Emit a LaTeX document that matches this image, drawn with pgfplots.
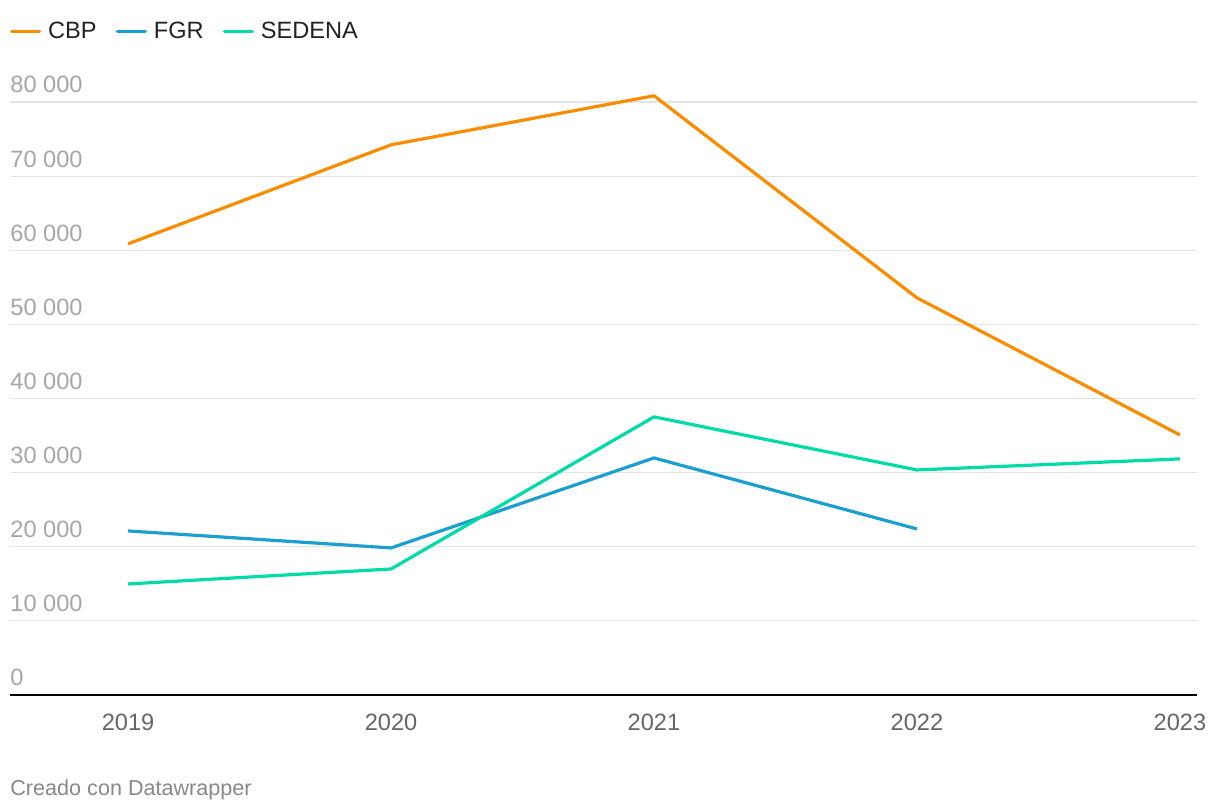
\documentclass[border=0pt]{standalone}
\usepackage{pgfplots}
\pgfplotsset{compat=1.18}
\usepackage{fontspec}
\setmainfont{Liberation Sans}
\definecolor{cbp}{HTML}{FA8C00}
\definecolor{fgr}{HTML}{1A9FD0}
\definecolor{sed}{HTML}{00DBA8}
\definecolor{gridc}{HTML}{E3E3E3}
\definecolor{ylab}{HTML}{A6A6A6}
\definecolor{xlab}{HTML}{666666}
\definecolor{cred}{HTML}{888888}
\definecolor{legt}{HTML}{222222}
\begin{document}
\begin{tikzpicture}
\useasboundingbox (0,0) rectangle (610pt,406pt);
\begin{axis}[
  at={(5pt,58.5pt)}, anchor=south west,
  scale only axis, width=593.5pt, height=296.5pt,
  xmin=2018.551, xmax=2023.065,
  ymin=0, ymax=80000,
  clip=false,
  scaled y ticks=false, scaled x ticks=false,
  axis x line=bottom, axis y line=left,
  x axis line style={-, black, line width=1.2pt},
  y axis line style={draw=none},
  major tick length=0pt,
  ymajorgrids, grid style={gridc, line width=0.6pt},
  xtick={2019,2020,2021,2022,2023},
  xticklabels={2019,2020,2021,2022,2023},
  ytick={0,10000,20000,30000,40000,50000,60000,70000,80000},
  yticklabels={0,10 000,20 000,30 000,40 000,50 000,60 000,70 000,80 000},
  yticklabel style={anchor=base west, inner sep=0pt, yshift=4.5pt, text=ylab, font=\fontsize{11.8}{14}\selectfont},
  xticklabel style={anchor=base, inner sep=0pt, yshift=-17.8pt, text=xlab, font=\fontsize{11.8}{14}\selectfont},
  legend columns=-1,
  legend style={at={(0,1)}, anchor=north west, yshift=41pt, xshift=0pt, draw=none, fill=none,
    inner sep=0pt, outer sep=0pt,
    font=\fontsize{11.8}{14}\selectfont, text=legt,
    /tikz/every even column/.append style={column sep=6pt},
    nodes={inner xsep=3.5pt, inner ysep=1pt}},
  legend image code/.code={\draw[line width=1.6pt, line cap=round] (0pt,0pt) -- (14pt,0pt);},
  every axis plot/.append style={line width=1.6pt, line join=round},
]
\addplot[cbp] coordinates {(2019,60860) (2020,74220) (2021,80840) (2022,53580) (2023,35090)};
\addlegendentry{CBP}
\addplot[fgr] coordinates {(2019,22130) (2020,19840) (2021,31980) (2022,22400)};
\addlegendentry{FGR}
\addplot[sed] coordinates {(2019,14980) (2020,17000) (2021,37520) (2022,30360) (2023,31850)};
\addlegendentry{SEDENA}
\end{axis}
\node[anchor=base west, inner sep=0pt, text=cred, font=\fontsize{10.8}{13}\selectfont] at (5pt,8pt) {Creado con Datawrapper};
\end{tikzpicture}
\end{document}
